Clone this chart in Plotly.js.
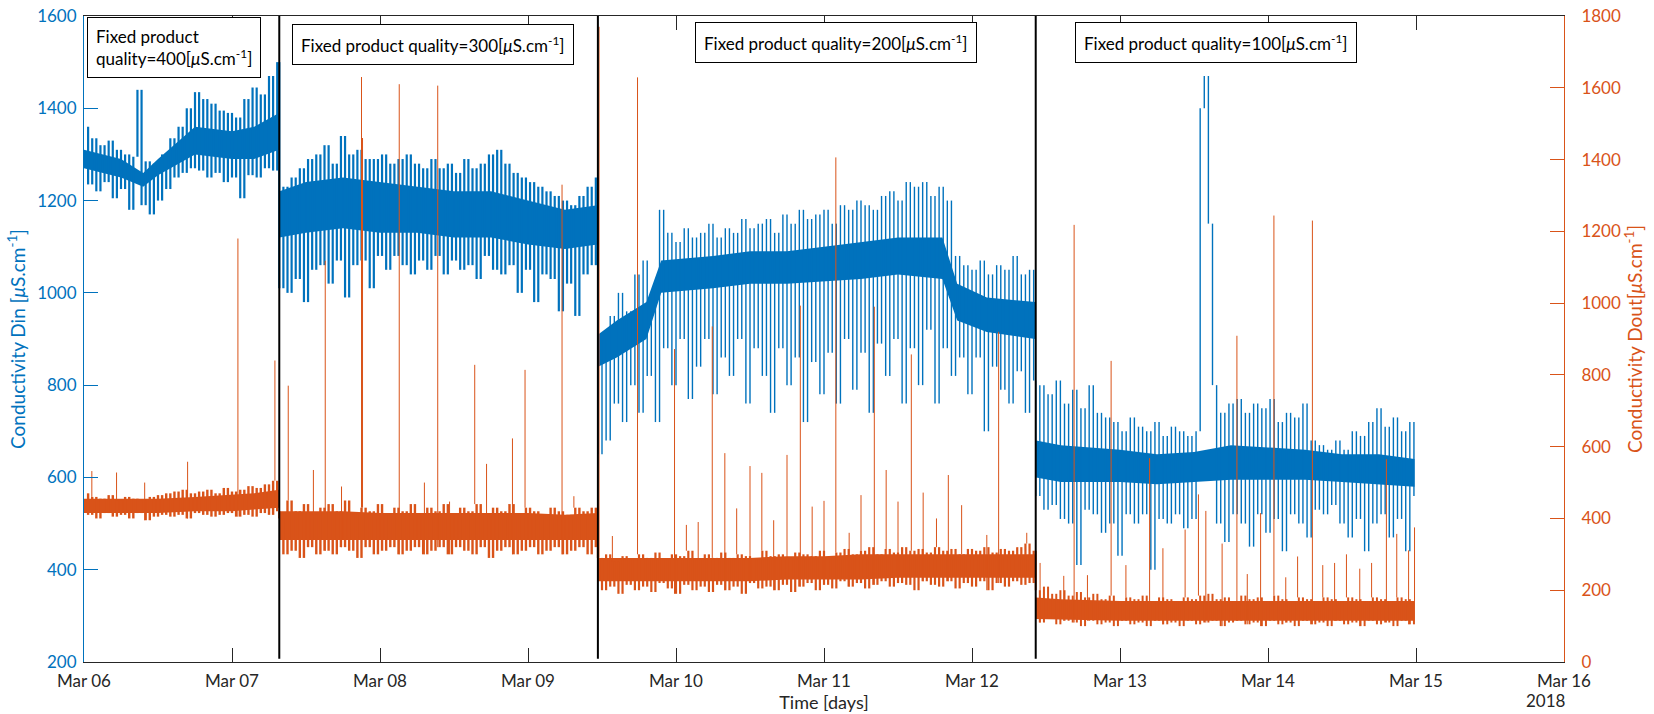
<!DOCTYPE html>
<html>
<head>
<meta charset="utf-8">
<script src="https://cdn.plot.ly/plotly-3.0.1.min.js"></script>
<style>html,body{margin:0;padding:0;background:#fff;}#chart{width:1654px;height:714px;}</style>
</head>
<body>
<div id="chart"></div>
<script>
// ---------- DATA ----------
// sampling of the dense traces: one value every 40 minutes, day offsets from Mar 06 2018 00:00
const segmentStartDays = [0, 1.31944, 3.47222, 6.43056];   // product-quality set-point changes
const segmentLabels = ['400', '300', '200', '100'];

// Conductivity Din (left axis) per segment
const dinA = [1360,1235,1335,1220,1320,1240,1330,1205,1310,1225,
  1300,1180,1295,1440,1190,1285,1170,1280,1200,1300,
  1225,1335,1250,1360,1260,1400,1270,1435,1265,1420,
  1250,1410,1260,1395,1240,1390,1250,1380,1205,1420,
  1255,1445,1250,1430,1270,1470,1265,1500];
const dinB = [1010,1230,1000,1250,1030,1270,980,1290,1050,1300,
  1060,1320,1020,1280,1070,1340,990,1300,1060,1310,
  1070,1290,1010,1290,1080,1300,1050,1280,1080,1290,
  1060,1300,1040,1280,1070,1270,1050,1290,1080,1270,
  1040,1280,1070,1260,1050,1290,1060,1270,1030,1280,
  1080,1300,1050,1310,1040,1280,1060,1260,1000,1250,
  1050,1240,980,1230,1040,1220,1030,1210,960,1200,
  1020,1190,950,1210,1040,1230,1060,1250];
const dinC = [650,900,680,950,760,1000,720,960,800,1040,
  740,1070,820,1000,720,1180,880,1130,800,1110,
  900,1140,770,1120,840,1130,900,1150,780,1120,
  860,1140,820,1130,900,1160,760,1140,880,1150,
  820,1160,740,1130,880,1170,800,1150,860,1180,
  720,1160,850,1170,780,1180,870,1150,760,1190,
  900,1180,790,1200,870,1190,740,1180,890,1210,
  820,1220,900,1200,760,1240,880,1230,800,1240,
  920,1210,760,1230,880,1200,820,1080,860,1060,
  780,1050,860,1070,700,1040,840,1060,790,1050,
  760,1080,830,1040,740,1050,810];
const dinD = [560,800,530,780,540,810,510,760,500,790,
  410,750,530,800,520,740,480,730,500,720,
  430,700,520,730,500,710,520,700,400,720,
  510,690,500,710,520,700,490,690,510,700,
  1400,1470,1150,800,500,740,460,760,520,770,
  500,740,450,760,520,750,480,770,510,720,
  440,740,520,730,500,760,470,680,530,670,
  520,660,540,680,500,660,470,700,510,690,
  440,720,500,750,520,710,470,730,510,700,
  440,720,560];

// Conductivity Dout (right axis) per segment
const doutA = [470,410,460,400,455,415,465,405,450,410,
  460,400,455,415,450,395,460,405,465,410,
  470,405,475,410,480,400,470,415,475,410,
  480,405,470,410,485,415,475,405,480,410,
  490,405,485,415,495,410,505,420];
const doutB = [400,300,450,310,420,290,440,320,410,300,
  430,310,440,300,420,320,450,310,410,290,
  430,320,420,300,440,310,410,320,430,300,
  420,310,440,320,410,300,430,310,420,320,
  440,300,410,320,430,310,420,300,440,320,
  410,290,430,310,420,320,440,300,410,310,
  430,320,420,300,410,310,430,320,420,300,
  410,310,430,320,420,300,430,320];
const doutC = [290,200,300,210,280,190,295,215,285,200,
  300,210,290,195,305,220,285,205,300,190,
  295,215,310,200,285,210,300,195,290,215,
  305,200,290,210,300,190,295,220,285,205,
  310,210,295,200,300,215,290,195,305,210,
  300,220,295,200,310,215,290,205,305,225,
  315,210,300,220,310,205,320,215,300,225,
  315,210,305,220,320,215,310,200,315,225,
  305,215,320,210,310,225,315,205,300,220,
  315,210,310,225,320,200,305,220,315,210,
  310,225,320,215,330,220,310];
const doutD = [200,110,210,120,190,105,200,115,185,110,
  195,100,180,115,190,105,175,110,185,100,
  170,115,180,105,175,110,185,100,170,115,
  180,105,175,110,170,100,180,115,175,105,
  185,110,190,115,175,100,180,110,170,115,
  185,105,175,110,180,100,170,115,185,105,
  175,110,170,100,180,115,175,105,170,110,
  180,100,175,115,170,105,180,110,175,100,
  170,115,180,105,175,110,170,100,180,115,
  175,105,170];

// dense (solid) core of each band, day offsets
const coreDays = [0,0.25,0.4,0.5,0.75,1.0,1.15,1.318,1.321,1.5,1.75,2.0,2.25,2.5,2.75,3.0,3.25,3.47,3.474,3.6,3.8,3.9,4.25,4.5,4.75,5.0,5.25,5.5,5.8,5.9,6.1,6.428,6.433,6.6,7.0,7.25,7.5,7.75,8.0,8.25,8.5,8.75,8.99];
const dinCoreLo = [1270,1250,1230,1255,1300,1290,1290,1310,1120,1130,1140,1130,1130,1120,1120,1105,1095,1105,840,860,900,1000,1010,1020,1020,1025,1030,1040,1030,940,915,900,600,590,590,585,590,595,595,595,590,585,580];
const dinCoreHi = [1310,1290,1260,1290,1360,1350,1360,1390,1220,1240,1250,1240,1230,1220,1220,1200,1180,1190,910,940,980,1070,1080,1090,1090,1100,1110,1120,1120,1020,990,980,680,670,660,650,655,670,665,660,650,650,640];
const doutCoreLo = [415,415,415,415,420,420,425,430,340,340,340,340,340,340,340,340,340,340,225,225,225,225,225,225,230,230,230,235,235,235,235,235,120,118,115,115,115,115,115,115,115,115,115];
const doutCoreHi = [455,455,455,455,460,465,470,480,420,420,420,415,415,415,415,415,410,415,290,290,290,290,290,290,295,295,300,300,300,300,300,300,180,175,170,170,170,170,170,170,170,170,170];

// isolated Dout spikes: day offset and peak value
const doutSpikeDays = [0.053,0.22,0.41,0.70,1.04,1.29,
  1.38,1.55,1.63,1.74,1.875,1.882,2.13,2.30,2.39,2.47,2.64,2.72,2.895,2.98,3.23,3.31,
  3.48,3.57,3.74,3.99,4.07,4.15,4.245,4.33,4.41,4.50,4.58,4.66,4.75,4.84,4.92,5.00,5.08,5.17,5.25,5.34,5.42,5.50,5.59,5.67,5.76,5.84,5.93,6.10,6.18,6.37,
  6.46,6.62,6.69,6.78,6.94,7.04,7.2,7.29,7.44,7.53,7.58,7.69,7.79,7.86,7.95,8.04,8.12,8.2,8.30,8.37,8.45,8.53,8.62,8.70,8.80,8.87,8.95,8.99];
const doutSpikePeaks = [532,528,500,558,1180,840,
  770,535,1118,489,1630,1460,1610,500,1606,447,828,552,623,814,1330,462,
  1770,351,1629,872,382,390,935,582,428,546,527,395,577,993,433,449,1406,360,465,990,535,447,857,472,400,521,437,354,920,360,
  276,240,1218,242,839,270,568,317,369,467,421,330,909,245,415,1244,236,294,1230,270,276,300,260,276,565,357,311,375];

const xTickLabels = ['Mar 06','Mar 07','Mar 08','Mar 09','Mar 10','Mar 11','Mar 12','Mar 13','Mar 14','Mar 15','Mar 16'];

// ---------- BUILD ----------
const DAY = 864e5, BASE = Date.UTC(2018, 2, 6), STEP = 1 / 36;
const BLUE = '#0072BD', ORANGE = '#D95319', AXC = '#262626';
function toDate(d) { return new Date(BASE + Math.round(d * DAY)).toISOString().slice(0, 19).replace('T', ' '); }
// dense signal: each new sample drawn as a vertical stroke from the previous sample's value
function build(segs) {
  const days = [], vals = [], seg = [];
  segs.forEach((arr, k) => arr.forEach((v, i) => { days.push(segmentStartDays[k] + i * STEP); vals.push(v); seg.push(k); }));
  const parts = segs.map(() => ({x: [], y: []}));
  for (let i = 1; i < vals.length; i++) {
    const t = toDate(days[i]), p = parts[seg[i]];
    p.x.push(t, t, null); p.y.push(vals[i - 1], vals[i], null);
  }
  return {parts, days, vals};
}
const din = build([dinA, dinB, dinC, dinD]);
const dout = build([doutA, doutB, doutC, doutD]);
const coreX = coreDays.map(toDate);

const spX = [], spY = [];
doutSpikeDays.forEach((d, i) => {
  let best = 0;
  dout.days.forEach((dd, j) => { if (Math.abs(dd - d) < Math.abs(dout.days[best] - d)) best = j; });
  const t = toDate(d);
  spX.push(t, t, null); spY.push(dout.vals[best], doutSpikePeaks[i], null);
});

const dinWidths = [2.2, 2.2, 1.4, 1.4], doutWidths = [2.4, 2.4, 2.2, 2.0];
const traces = [
  {x: coreX, y: dinCoreLo, mode: 'lines', line: {width: 0, color: BLUE}, hoverinfo: 'skip'},
  {x: coreX, y: dinCoreHi, mode: 'lines', line: {width: 0, color: BLUE}, fill: 'tonexty', fillcolor: BLUE, hoverinfo: 'skip'}
];
din.parts.forEach((p, k) => traces.push({x: p.x, y: p.y, mode: 'lines', line: {width: dinWidths[k], color: BLUE}, connectgaps: false, name: 'Din'}));
traces.push(
  {x: coreX, y: doutCoreLo, yaxis: 'y2', mode: 'lines', line: {width: 0, color: ORANGE}, hoverinfo: 'skip'},
  {x: coreX, y: doutCoreHi, yaxis: 'y2', mode: 'lines', line: {width: 0, color: ORANGE}, fill: 'tonexty', fillcolor: ORANGE, hoverinfo: 'skip'}
);
dout.parts.forEach((p, k) => traces.push({x: p.x, y: p.y, yaxis: 'y2', mode: 'lines', line: {width: doutWidths[k], color: ORANGE}, connectgaps: false, name: 'Dout'}));
traces.push({x: spX, y: spY, yaxis: 'y2', mode: 'lines', line: {width: 1, color: ORANGE}, connectgaps: false, name: 'Dout spikes'});

const font = 'Lato, "Open Sans", sans-serif';
const boxPos = [[0.0020, 0.9985], [0.1405, 0.9876], [0.4128, 0.9907], [0.6696, 0.9907]];
const annotations = segmentLabels.map((q, i) => ({
  xref: 'paper', yref: 'paper', x: boxPos[i][0], y: boxPos[i][1], xanchor: 'left', yanchor: 'top',
  text: (i === 0 ? 'Fixed product<br>quality=' : 'Fixed product quality=') + q + '[<i>μ</i>S.cm<sup>-1</sup>]',
  align: 'left', showarrow: false, font: {family: font, size: 17, color: '#000'},
  bgcolor: '#fff', bordercolor: '#000', borderwidth: 1, borderpad: 8
}));
annotations.push({xref: 'paper', yref: 'paper', x: 0.988, y: -0.059, xanchor: 'center', yanchor: 'middle',
  text: '2018', showarrow: false, font: {family: font, size: 17, color: AXC}});

const shapes = segmentStartDays.slice(1).map(d => ({
  type: 'line', xref: 'x', yref: 'paper', x0: toDate(d), x1: toDate(d), y0: 0.005, y1: 1,
  line: {color: '#000', width: 2}
}));

const layout = {
  width: 1654, height: 714,
  margin: {l: 84, r: 90, t: 16, b: 52},
  paper_bgcolor: '#fff', plot_bgcolor: '#fff',
  font: {family: font, size: 17, color: AXC},
  showlegend: false,
  xaxis: {
    type: 'date', range: [toDate(0), toDate(10)],
    tickvals: xTickLabels.map((_, i) => toDate(i)), ticktext: xTickLabels,
    ticks: 'inside', ticklen: 14, tickcolor: AXC, tickwidth: 1,
    showline: true, linecolor: AXC, linewidth: 1, mirror: 'ticks',
    showgrid: false, zeroline: false, tickfont: {size: 17, color: AXC}, ticklabelstandoff: 4,
    title: {text: 'Time [days]', font: {size: 18, color: AXC}, standoff: 2}
  },
  yaxis: {
    range: [200, 1600], tickvals: [200, 400, 600, 800, 1000, 1200, 1400, 1600],
    ticks: 'inside', ticklen: 14, tickcolor: BLUE, showline: true, linecolor: BLUE,
    showgrid: false, zeroline: false, tickfont: {size: 17, color: BLUE}, ticklabelstandoff: 3,
    title: {text: 'Conductivity Din [<i>μ</i>S.cm<sup>-1</sup>]', font: {size: 19, color: BLUE}, standoff: 6}
  },
  yaxis2: {
    overlaying: 'y', side: 'right', range: [0, 1800],
    tickvals: [0, 200, 400, 600, 800, 1000, 1200, 1400, 1600, 1800],
    ticks: 'inside', ticklen: 14, tickcolor: ORANGE, showline: true, linecolor: ORANGE,
    showgrid: false, zeroline: false, tickfont: {size: 17, color: ORANGE}, ticklabelstandoff: 13,
    title: {text: 'Conductivity Dout[<i>μ</i>S.cm<sup>-1</sup>]', font: {size: 19, color: ORANGE}, standoff: 4}
  },
  annotations, shapes
};

Plotly.newPlot('chart', traces, layout, {displayModeBar: false, staticPlot: true});
</script>
</body>
</html>
